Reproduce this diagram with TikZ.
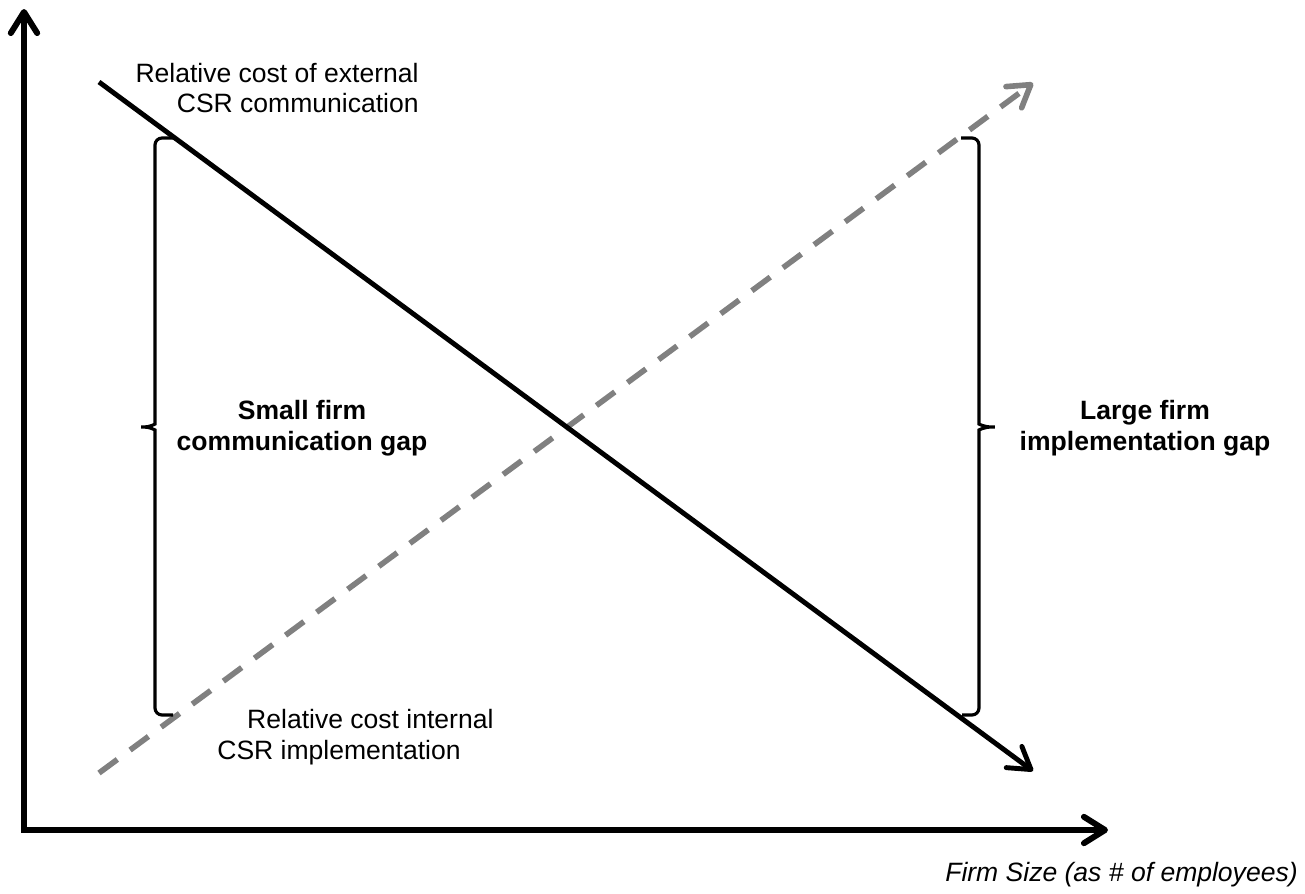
\documentclass[tikz,border=0pt]{standalone}
\usepackage{fontspec}
\setmainfont{Liberation Sans}
\usetikzlibrary{arrows.meta}
\definecolor{dashgray}{RGB}{128,128,128}
\tikzset{
  barb/.tip={Straight Barb[length=12pt,width=15pt,round]},
  axisline/.style={line width=3.4pt,barb-barb},
  extcost/.style={line width=2.8pt,-barb},
  intcost/.style={line width=3.2pt,draw=dashgray,dash pattern=on 13pt off 9pt,-barb},
  gapbrace/.style={line width=1.8pt,rounded corners=4},
  gaplabel/.style={align=center,inner sep=0pt,font=\fontsize{15.1}{17.6}\selectfont\bfseries}
}
\begin{document}
\begin{tikzpicture}[x=0.02cm,y=-0.02cm,font=\fontsize{15.1}{17.6}\selectfont]
\useasboundingbox (0,0) rectangle (1305,893);
\coordinate (ytip) at (24,9);
\coordinate (origin) at (24,830);
\coordinate (xtip) at (1108,830);
\draw[axisline] (ytip) -- (origin) -- (xtip);
\coordinate (extstart) at (99,82);
\coordinate (extend) at (1033,771);
\coordinate (intstart) at (99,773);
\coordinate (intend) at (1033,83);
\draw[intcost] (intstart) -- (intend);
\draw[extcost] (extstart) -- (extend);
\draw[gapbrace] (173,138) -| (155,300) -- (155,417) .. controls (155,424) and (150,427) .. (137,427)
  .. controls (150,427) and (155,430) .. (155,437) -- (155,600) |- (173,715);
\draw[gapbrace] (961,138) -| (979,300) -- (979,417) .. controls (979,424) and (984,427) .. (999,427)
  .. controls (984,427) and (979,430) .. (979,437) -- (979,600) |- (962,715);
\node[align=right,inner sep=0pt,anchor=east] (extlabel) at (419,88) {Relative cost of external\\CSR communication};
\node[align=left,inner sep=0pt,anchor=west] (intlabel) at (217,737) {\hspace*{17pt}Relative cost internal\\CSR implementation};
\node[gaplabel] (smallgap) at (302,428) {Small firm\\communication gap};
\node[gaplabel] (largegap) at (1145,428) {Large firm\\implementation gap};
\node[inner sep=0pt,anchor=east,font=\fontsize{15.1}{17.6}\selectfont\itshape] (sizelabel) at (1298,875) {Firm Size (as \# of employees)};
\end{tikzpicture}
\end{document}
